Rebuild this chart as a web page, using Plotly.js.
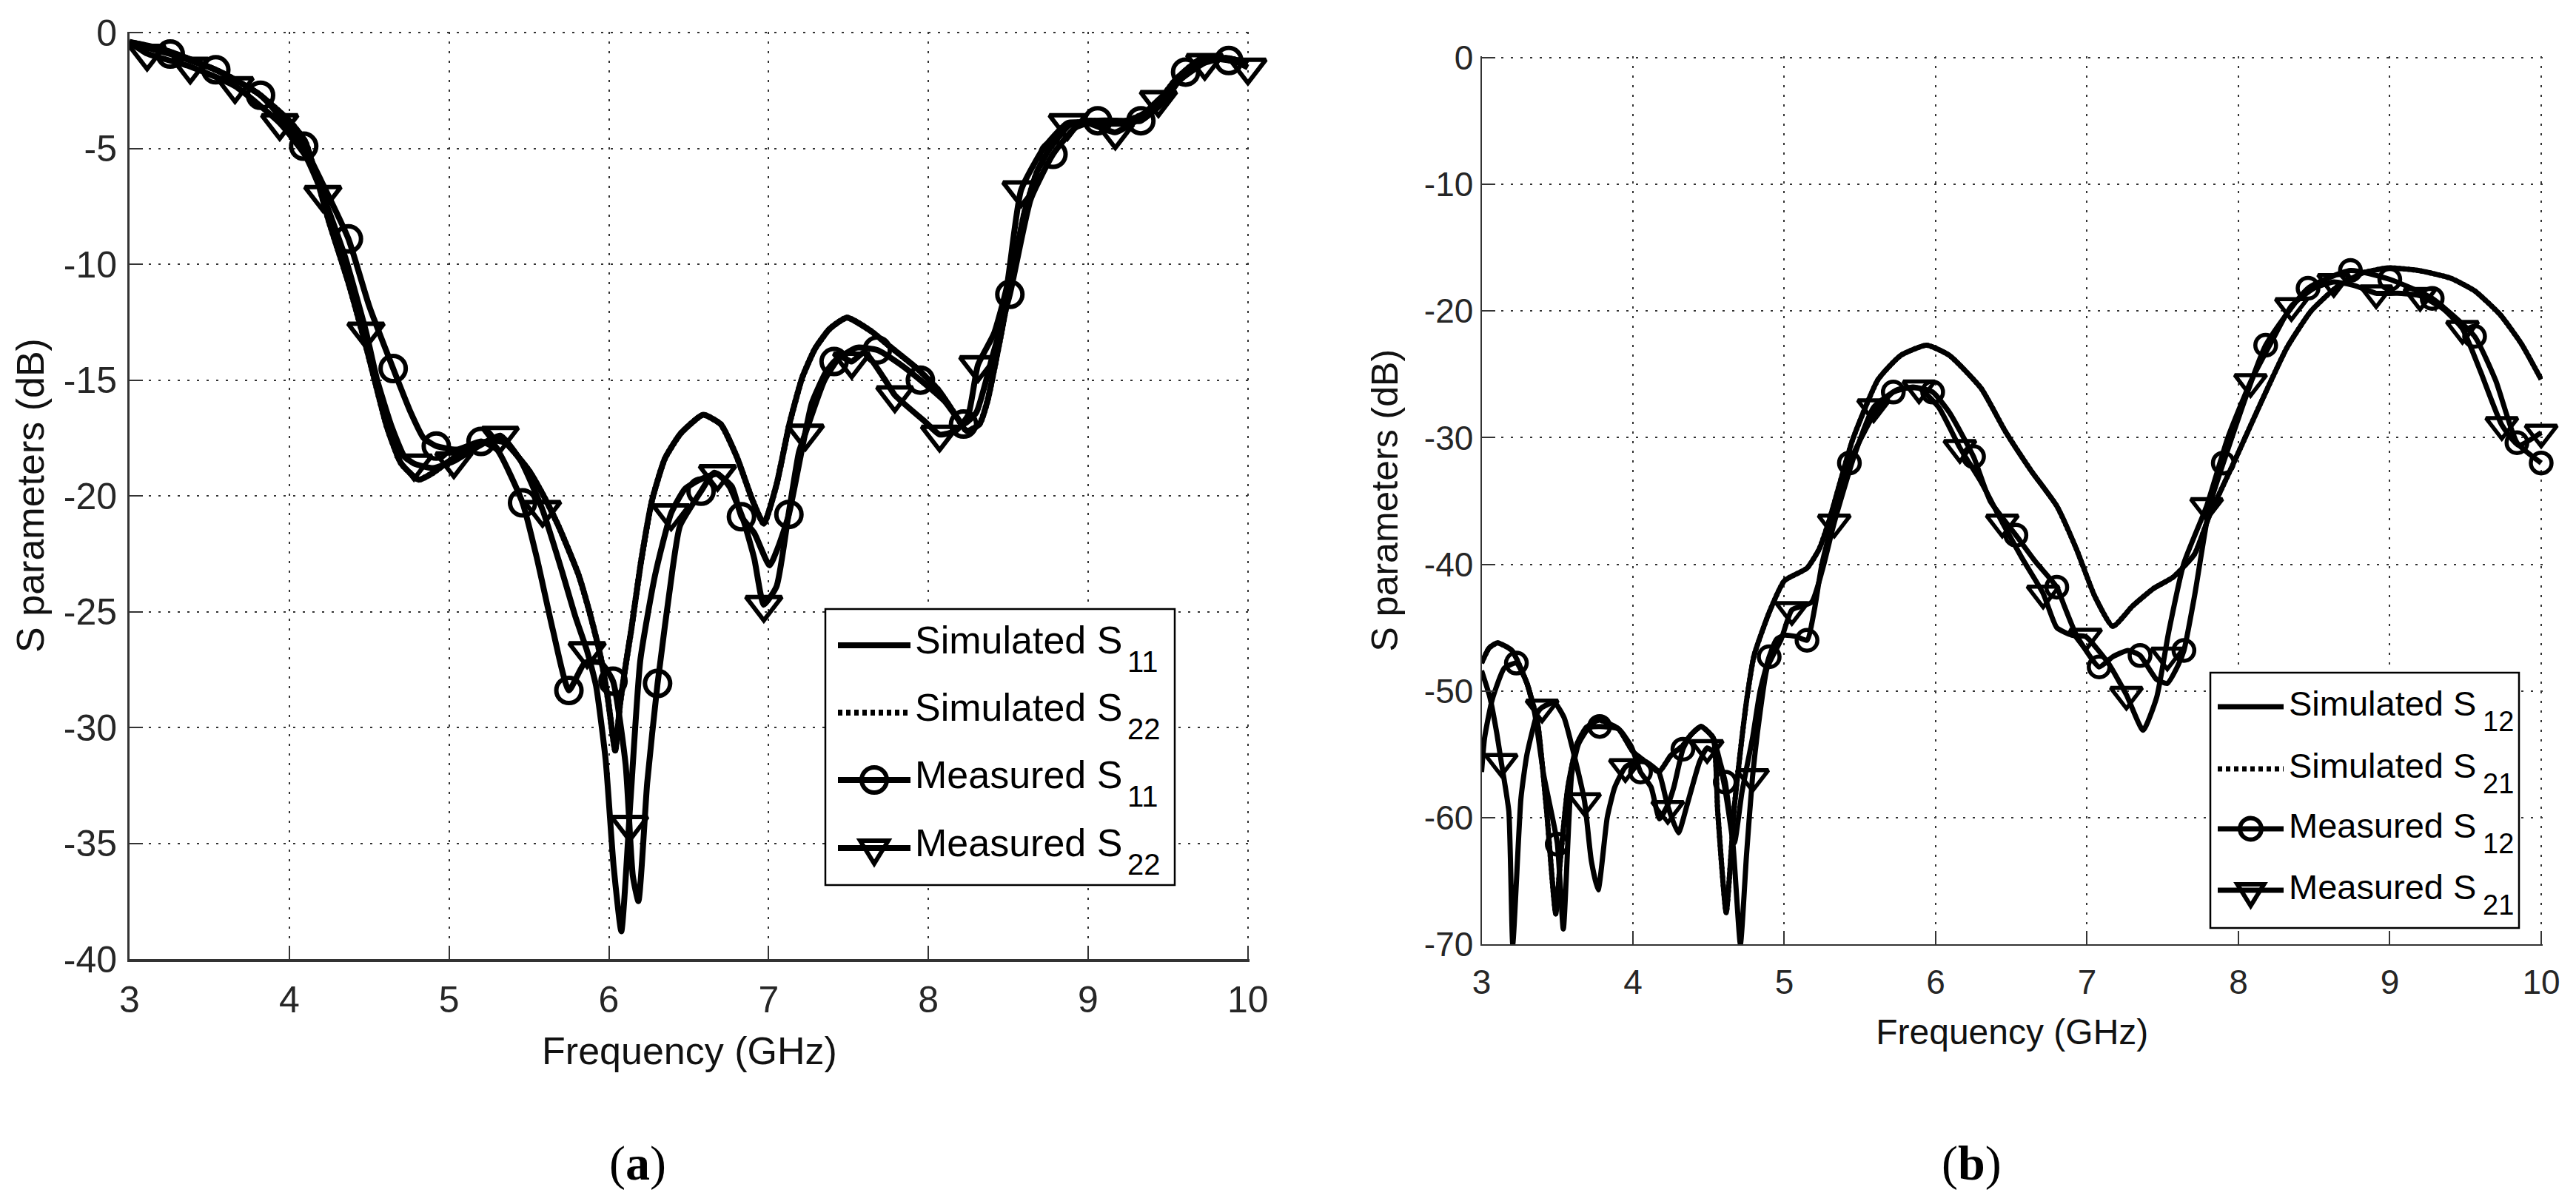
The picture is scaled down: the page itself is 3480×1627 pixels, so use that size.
<!DOCTYPE html>
<html><head><meta charset="utf-8">
<script src="https://cdn.plot.ly/plotly-3.0.1.min.js"></script>
<style>html,body{margin:0;padding:0;background:#fff}</style></head>
<body><div id="chart" style="width:3480px;height:1627px"></div>
<script>
// ---------- panel (a): simulated S11 / S22 ----------
const simFreqA = [3,3.2,3.4,3.6,3.8,4,4.1,4.25,4.37,4.49,4.61,4.7,4.81,4.9,5.02,5.15,5.26,5.35,5.5,5.6,5.685,5.81,5.89,5.95,5.995,6.04,6.07,6.11,6.14,6.2,6.27,6.35,6.45,6.59,6.7,6.8,6.9,6.97,7.05,7.13,7.21,7.29,7.38,7.49,7.645,7.75,7.93,8.06,8.16,8.24,8.32,8.37,8.45,8.51,8.6,8.68,8.76,8.88,8.99,9.24,9.4,9.55,9.71,9.88,10];
const simS11A = [-0.4,-0.7,-1.2,-1.8,-2.6,-3.8,-4.7,-8.2,-10.8,-13.8,-17,-18.6,-19.3,-19,-18.4,-17.9,-17.6,-17.7,-18.9,-20.1,-21.3,-23.4,-25.3,-27,-28.8,-31,-29,-27.1,-25.8,-22.9,-20.2,-18.4,-17.3,-16.5,-16.9,-18.3,-20.2,-21.2,-19.5,-16.9,-14.9,-13.65,-12.8,-12.3,-12.9,-13.5,-14.5,-15.4,-16.4,-17.2,-16.9,-15.9,-13.2,-11,-7.8,-6,-5,-4,-3.8,-3.8,-3.3,-2,-1.1,-1.1,-1.3];
const simS22A = simS11A.slice();   // the two simulated curves coincide in the picture

// ---------- panel (a): measured curves ----------
const measFreq11A = [3,3.255,3.54,3.82,4.09,4.2,4.37,4.5,4.65,4.76,4.84,4.92,5.05,5.2,5.3,5.46,5.55,5.65,5.75,5.85,5.95,6.026,6.105,6.15,6.185,6.24,6.305,6.4,6.445,6.577,6.66,6.77,6.83,6.91,7.006,7.06,7.127,7.2,7.27,7.355,7.41,7.55,7.68,7.82,7.95,8.1,8.22,8.3,8.4,8.51,8.64,8.78,8.92,9.06,9.2,9.33,9.47,9.61,9.75,9.88,10];
const measS11A = [-0.45,-0.92,-1.6,-2.7,-4.9,-6.4,-8.9,-11.8,-14.5,-16.4,-17.5,-17.85,-18,-17.65,-18,-20.3,-22.7,-25.8,-28.4,-27.2,-27.2,-28,-31.6,-36.4,-37.5,-32.4,-28.1,-23.1,-21.3,-19.8,-19,-19.6,-20.9,-21.6,-23,-22.2,-20.8,-18.3,-16,-14.7,-14.2,-13.6,-13.7,-14.3,-15,-15.9,-16.9,-16.4,-14,-11.3,-7.2,-5.25,-4.1,-3.8,-3.8,-3.8,-3,-1.7,-1.1,-1.2,-1.3];
const markFreq11A = [3.255,3.54,3.82,4.09,4.37,4.65,4.92,5.2,5.46,5.75,6.026,6.305,6.577,6.83,7.127,7.41,7.68,7.95,8.22,8.51,8.78,9.06,9.33,9.61,9.88];
const markS11A = [-0.92,-1.6,-2.7,-4.9,-8.9,-14.5,-17.85,-17.65,-20.3,-28.4,-28,-28.1,-19.8,-20.9,-20.8,-14.2,-13.7,-15,-16.9,-11.3,-5.25,-3.8,-3.8,-1.7,-1.2];

const measFreq22A = [3,3.11,3.38,3.66,3.94,4.1,4.21,4.35,4.48,4.55,4.64,4.72,4.78,4.9,5.03,5.15,5.32,5.45,5.585,5.7,5.79,5.864,5.92,5.98,6.03,6.078,6.135,6.197,6.29,6.39,6.476,6.57,6.68,6.755,6.84,6.91,6.97,7.05,7.127,7.19,7.23,7.35,7.45,7.52,7.6,7.73,7.79,7.98,8.07,8.17,8.25,8.31,8.41,8.49,8.58,8.72,8.87,9.0,9.17,9.3,9.44,9.6,9.73,9.87,10];
const measS22A = [-0.4,-0.9,-1.46,-2.3,-3.9,-5.3,-7,-9.7,-12.9,-15,-17,-18.3,-18.6,-18.8,-18.5,-18,-17.4,-18.5,-20.6,-23.1,-25.2,-26.7,-28.2,-31.4,-36,-38.8,-33.2,-27.1,-23.4,-20.75,-19.7,-19.3,-19.05,-19.6,-21,-22.7,-24.7,-23.9,-20.7,-18.1,-17.3,-15,-14,-14.2,-13.8,-15,-15.65,-16.8,-17.35,-17.2,-16.5,-14.35,-13,-11,-6.8,-5,-3.9,-3.9,-4.3,-3.8,-2.9,-1.9,-1.3,-1.1,-1.5];
const markFreq22A = [3.11,3.38,3.66,3.94,4.21,4.48,4.78,5.03,5.32,5.585,5.864,6.13,6.39,6.68,6.97,7.23,7.52,7.79,8.07,8.31,8.58,8.87,9.17,9.44,9.73,10];
const markS22A = [-0.9,-1.46,-2.3,-3.9,-7,-12.9,-18.6,-18.5,-17.4,-20.6,-26.7,-34.2,-20.75,-19.05,-24.7,-17.3,-14.2,-15.65,-17.35,-14.35,-6.8,-3.9,-4.3,-2.9,-1.3,-1.5];

// ---------- panel (b): simulated S12 / S21 ----------
const simFreqB = [3,3.05,3.105,3.2,3.3,3.37,3.43,3.49,3.52,3.57,3.63,3.69,3.775,3.905,4,4.085,4.17,4.25,4.33,4.38,4.45,4.53,4.56,4.616,4.67,4.72,4.755,4.8,4.9,5,5.15,5.23,5.3,5.45,5.62,5.77,5.94,6.09,6.3,6.46,6.63,6.8,6.93,7.05,7.17,7.3,7.44,7.57,7.71,7.81,7.98,8.15,8.32,8.48,8.65,8.82,8.99,9.19,9.4,9.56,9.73,9.87,10];
const simS12B = [-47.8,-46.6,-46.2,-46.8,-49.4,-52.5,-59.5,-67.6,-63.4,-57.6,-54.2,-52.9,-52.3,-53,-54.8,-55.6,-56.4,-55.1,-54.3,-53.5,-52.8,-53.7,-59.5,-67.5,-59.1,-53.7,-50.4,-47.2,-43.8,-41.3,-40.3,-38.8,-36.4,-30.2,-25.4,-23.5,-22.7,-23.5,-26.1,-29.5,-32.6,-35.4,-38.8,-42.5,-44.9,-43.3,-41.9,-41,-39.2,-36.1,-31.7,-27.2,-22.9,-20,-18.1,-17,-16.6,-16.8,-17.4,-18.4,-20.3,-22.6,-25.4];
const simS21B = simS12B.slice();   // the two simulated curves coincide in the picture

// ---------- panel (b): measured curves ----------
const measFreq12B = [3,3.02,3.07,3.15,3.23,3.3,3.35,3.41,3.5,3.54,3.595,3.64,3.71,3.78,3.905,3.99,4.05,4.12,4.175,4.23,4.27,4.33,4.38,4.45,4.53,4.575,4.61,4.67,4.72,4.79,4.84,4.9,4.95,5,5.08,5.15,5.2,5.25,5.43,5.6,5.72,5.85,5.98,6.09,6.25,6.36,6.53,6.66,6.8,6.85,6.93,7.08,7.17,7.27,7.35,7.46,7.53,7.6,7.64,7.71,7.81,7.9,8.18,8.46,8.74,9,9.28,9.56,9.7,9.84,10];
const measS12B = [-56.4,-53.7,-50.7,-48.2,-47.8,-49.4,-51.7,-56.6,-62,-68.8,-56.6,-54.2,-52.9,-52.8,-53,-54.4,-56.4,-57.6,-60.1,-59,-57.6,-54.6,-53.5,-52.8,-53.7,-55.6,-57.2,-62,-58,-53.7,-50,-47.3,-45.9,-45.6,-45.7,-46,-43.5,-39.9,-32,-28,-26.4,-26,-26.4,-28,-31.5,-35,-37.7,-39.8,-41.8,-43.3,-45.6,-48.1,-47.3,-46.8,-47.2,-49.1,-49.4,-48,-46.8,-42.5,-35.4,-32,-22.7,-18.2,-16.8,-17.5,-19,-22,-25.5,-30.4,-32];
const markFreq12B = [3.23,3.5,3.78,4.05,4.33,4.61,4.9,5.15,5.43,5.72,5.98,6.25,6.53,6.8,7.08,7.35,7.64,7.9,8.18,8.46,8.74,9,9.28,9.56,9.84,10];
const markS12B = [-47.8,-62.1,-52.8,-56.4,-54.6,-57.2,-47.3,-46,-32,-26.4,-26.4,-31.5,-37.7,-41.8,-48.1,-47.2,-46.8,-32,-22.7,-18.2,-16.8,-17.5,-19,-22,-30.4,-32];

const measFreq21B = [3,3.055,3.1,3.13,3.18,3.206,3.26,3.3,3.37,3.4,3.48,3.545,3.61,3.68,3.725,3.77,3.83,3.88,3.95,4.02,4.085,4.17,4.23,4.3,4.36,4.44,4.49,4.55,4.6,4.66,4.71,4.75,4.79,4.84,4.886,4.98,5.05,5.18,5.25,5.33,5.46,5.59,5.75,5.89,6.02,6.16,6.3,6.44,6.57,6.71,6.8,6.9,6.99,7.14,7.26,7.37,7.46,7.54,7.64,7.79,7.93,8.08,8.22,8.35,8.5,8.63,8.77,8.91,9.05,9.2,9.35,9.48,9.6,9.74,9.85,10];
const measS21B = [-48.4,-50.5,-53.3,-55.6,-59.5,-70,-58.5,-55,-51.7,-51.3,-50.9,-52.1,-55,-58.7,-63.4,-65.7,-60,-57.6,-56,-55.6,-55.6,-56.4,-59.1,-61.2,-58.9,-55.6,-54.5,-55,-57.2,-62,-70,-63,-56.8,-51.7,-48.2,-45.9,-43.6,-43,-40.5,-36.7,-31.5,-27.6,-26.2,-26.1,-27.6,-30.8,-33.5,-36.7,-39.5,-42.3,-45,-45.6,-45.7,-47.8,-50.3,-53.1,-50.5,-45.3,-39.9,-35.4,-30,-25.6,-22.4,-19.6,-18.2,-17.7,-18,-18.6,-18.6,-18.8,-19.8,-21.4,-24.8,-29,-30.6,-29.6];
const markFreq21B = [3.13,3.4,3.68,3.95,4.23,4.49,4.79,5.05,5.33,5.59,5.89,6.16,6.44,6.71,6.99,7.26,7.53,7.79,8.08,8.35,8.63,8.91,9.2,9.48,9.74,10];
const markS21B = [-55.6,-51.3,-58.7,-56,-59.3,-54.5,-56.8,-43.6,-36.7,-27.6,-26.1,-30.8,-36.7,-42.3,-45.7,-50.3,-47.2,-35.4,-25.6,-19.6,-17.7,-18.6,-18.8,-21.4,-29,-29.6];

// ---------- text ----------
const xTicks = [3,4,5,6,7,8,9,10];
const yTicksA = [-40,-35,-30,-25,-20,-15,-10,-5,0];
const yTicksB = [-70,-60,-50,-40,-30,-20,-10,0];
const xTitle = 'Frequency (GHz)';
const yTitle = 'S parameters (dB)';
const legendA = ['Simulated S','Simulated S','Measured S','Measured S'];
const legendSubA = ['11','22','11','22'];
const legendB = ['Simulated S','Simulated S','Measured S','Measured S'];
const legendSubB = ['12','21','12','21'];
const panelLabels = ['(<b>a</b>)','(<b>b</b>)'];

// ---------- page geometry (pixels) ----------
const L=175, R=3435, T=43, B=1296, W=R-L, H=B-T;
const px = x => (x-L)/W, py = y => (B-y)/H;
const DARK='#262626', BLACK='#000';
const FONT='"Liberation Sans", Arial, sans-serif';

function line(x,y,w,name,xa,ya,dash){return {type:'scatter',mode:'lines',x,y,name,xaxis:xa,yaxis:ya,showlegend:false,hoverinfo:'skip',
  line:{color:BLACK,width:w,dash:dash||'solid',shape:'spline',smoothing:0.5}};}
function marks(x,y,sym,size,lw,name,xa,ya){return {type:'scatter',mode:'markers',x,y,name,xaxis:xa,yaxis:ya,showlegend:false,hoverinfo:'skip',cliponaxis:false,
  marker:{symbol:sym,size,color:BLACK,line:{color:BLACK,width:lw}}};}

const data=[
 line(simFreqA,simS11A,8,'Simulated S11','x','y'),
 line(simFreqA,simS22A,8,'Simulated S22','x','y','3px,3px'),
 line(measFreq11A,measS11A,8,'Measured S11','x','y'),
 marks(markFreq11A,markS11A,'circle-open',34,6,'Measured S11 markers','x','y'),
 line(measFreq22A,measS22A,8,'Measured S22','x','y'),
 marks(markFreq22A,markS22A,'triangle-down-open',42,6,'Measured S22 markers','x','y'),
 line(simFreqB,simS12B,7,'Simulated S12','x2','y2'),
 line(simFreqB,simS21B,7,'Simulated S21','x2','y2','3px,3px'),
 line(measFreq12B,measS12B,7,'Measured S12','x2','y2'),
 marks(markFreq12B,markS12B,'circle-open',28,5.5,'Measured S12 markers','x2','y2'),
 line(measFreq21B,measS21B,7,'Measured S21','x2','y2'),
 marks(markFreq21B,markS21B,'triangle-down-open',37,5.5,'Measured S21 markers','x2','y2'),
];

// ---------- hand-drawn legends (Plotly caps legend glyph size at 16px) ----------
const shapes=[], annos=[];
function legendBox(o){
  const b=o.box;
  shapes.push({type:'rect',xref:'paper',yref:'paper',x0:px(b[0]),x1:px(b[1]),y0:py(b[3]),y1:py(b[2]),fillcolor:'#fff',line:{color:BLACK,width:2.5},layer:'above'});
  o.rows.forEach((ry,i)=>{
    shapes.push({type:'line',xref:'paper',yref:'paper',x0:px(o.sx[0]),x1:px(o.sx[1]),y0:py(ry),y1:py(ry),line:{color:BLACK,width:o.lw,dash:i===1?'6px,5px':'solid'},layer:'above'});
    const cx=(o.sx[0]+o.sx[1])/2;
    if(i===2) shapes.push({type:'circle',xref:'paper',yref:'paper',x0:px(cx-o.mr),x1:px(cx+o.mr),y0:py(ry+o.mr),y1:py(ry-o.mr),line:{color:BLACK,width:6},layer:'above'});
    if(i===3) shapes.push({type:'path',xref:'paper',yref:'paper',path:`M ${px(cx-o.tw)} ${py(ry-o.tt)} L ${px(cx+o.tw)} ${py(ry-o.tt)} L ${px(cx)} ${py(ry+o.ta)} Z`,line:{color:BLACK,width:6},layer:'above'});
    annos.push({xref:'paper',yref:'paper',x:px(o.tx),y:py(ry+o.mainDy),xanchor:'left',yanchor:'middle',showarrow:false,text:o.labels[i],font:{family:FONT,size:o.font,color:BLACK},align:'left'});
    annos.push({xref:'paper',yref:'paper',x:px(o.subX),y:py(ry+o.subDy),xanchor:'left',yanchor:'middle',showarrow:false,text:o.subs[i],font:{family:FONT,size:o.subFont,color:BLACK},align:'left'});
  });
}
legendBox({box:[1115,1587,823,1196],rows:[872,963,1054,1146],labels:legendA,subs:legendSubA,font:52,subFont:40,sx:[1132,1230],tx:1234,subX:1521,mainDy:-7,subDy:22,lw:8,mr:17,tw:19,tt:10,ta:21});
legendBox({box:[2986,3403,909,1254],rows:[955,1039,1120,1203],labels:legendB,subs:legendSubB,font:47,subFont:38,sx:[2996,3085],tx:3090,subX:3352,mainDy:-5,subDy:20,lw:7,mr:14.5,tw:18,tt:8,ta:21});

annos.push({xref:'paper',yref:'paper',x:px(861),y:py(1572),xanchor:'center',yanchor:'middle',showarrow:false,text:panelLabels[0],font:{family:'"Liberation Serif",serif',size:66,color:BLACK}});
annos.push({xref:'paper',yref:'paper',x:px(2663),y:py(1572),xanchor:'center',yanchor:'middle',showarrow:false,text:panelLabels[1],font:{family:'"Liberation Serif",serif',size:66,color:BLACK}});

function axis(extra,tickSize,titleText,titleSize,standoff,lineW){
  return Object.assign({showgrid:true,griddash:'3px,10px',gridcolor:'#333',gridwidth:2,zeroline:false,showline:true,linecolor:'#333',linewidth:lineW,
    ticks:'inside',ticklen:18,tickwidth:2,tickcolor:'#333',tickfont:{family:FONT,size:tickSize,color:DARK},automargin:false,
    title:{text:titleText,font:{family:FONT,size:titleSize,color:'#111'},standoff}},extra);
}
const asText = v => v.map(String);

const layout={
  width:3480,height:1627,paper_bgcolor:'#fff',plot_bgcolor:'#fff',showlegend:false,
  margin:{l:L,r:3480-R,t:T,b:1627-B,pad:0},
  xaxis: axis({domain:[0,px(1688)],range:[3,10.01],tickmode:'array',tickvals:xTicks,ticktext:asText(xTicks),anchor:'y',ticklabelstandoff:8},50,xTitle,52,25,4),
  yaxis: axis({domain:[0,1],range:[-40,0.04],tickmode:'array',tickvals:yTicksA,ticktext:asText(yTicksA),anchor:'x',ticklabelstandoff:4},50,yTitle,52,10,3),
  xaxis2:axis({domain:[px(2001.5),1],range:[3,10.01],tickmode:'array',tickvals:xTicks,ticktext:asText(xTicks),anchor:'y2',ticklabelstandoff:10},46,xTitle,48,25,2),
  yaxis2:axis({domain:[py(1276),py(76.3)],range:[-70,0.1],tickmode:'array',tickvals:yTicksB,ticktext:asText(yTicksB),anchor:'x2'},46,yTitle,50,19,2),
  shapes,annotations:annos
};
Plotly.newPlot('chart',data,layout,{staticPlot:true,displayModeBar:false});
</script></body></html>
